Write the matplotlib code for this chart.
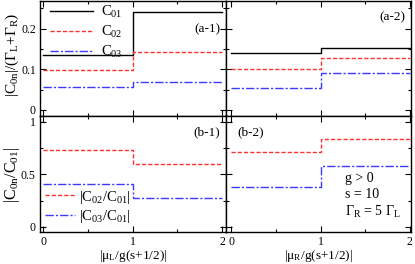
import matplotlib
matplotlib.use("Agg")
import matplotlib.pyplot as plt
from matplotlib.ticker import MultipleLocator, FormatStrFormatter

plt.rcParams['font.family'] = ['Liberation Serif', 'DejaVu Serif']
plt.rcParams['mathtext.fontset'] = 'custom'
plt.rcParams['mathtext.rm'] = 'Liberation Serif'
plt.rcParams['mathtext.it'] = 'Liberation Serif'
plt.rcParams['mathtext.default'] = 'regular'

# step positions: value below 1 and above 1
x = [0, 1, 2]

# (a-1) |C0n|/(GL+GR) vs muL
a1_c01 = [0.135, 0.241]
a1_c02 = [0.099, 0.143]
a1_c03 = [0.056, 0.068]
# (a-2) vs muR
a2_c01 = [0.141, 0.153]
a2_c02 = [0.0995, 0.128]
a2_c03 = [0.054, 0.0915]
# (b-1) ratios vs muL
b1_r2 = [0.733, 0.596]
b1_r3 = [0.408, 0.277]
# (b-2) ratios vs muR
b2_r2 = [0.716, 0.835]
b2_r3 = [0.382, 0.583]

W, H = 415, 264
fig = plt.figure(figsize=(W / 100, H / 100), dpi=100)

def px_axes(x0, y0, x1, y1):
    return fig.add_axes([x0 / W, 1 - y1 / H, (x1 - x0) / W, (y1 - y0) / H])

ax_a1 = px_axes(40, 1, 226, 116)
ax_a2 = px_axes(226, 1, 411, 116)
ax_b1 = px_axes(40, 116, 226, 232)
ax_b2 = px_axes(226, 116, 411, 232)

def st(v):
    return [v[0], v[1], v[1]]

red = '#ff3030'
blue = '#3a3aff'
lw = 1.0
dash = (0, (3, 1.5))
dashdot = (0, (6, 1.5, 1.5, 1.5))

for ax, c1, c2, c3 in [(ax_a1, a1_c01, a1_c02, a1_c03), (ax_a2, a2_c01, a2_c02, a2_c03)]:
    ax.step(x, st(c1), where='post', color='black', lw=lw, label='C$_{01}$')
    ax.step(x, st(c2), where='post', color=red, lw=lw, ls=dash, label='C$_{02}$')
    ax.step(x, st(c3), where='post', color=blue, lw=lw, ls=dashdot, label='C$_{03}$')
    ax.set_ylim(-0.015, 0.268)
    ax.yaxis.set_major_locator(MultipleLocator(0.1))
    ax.yaxis.set_minor_locator(MultipleLocator(0.05))

for ax, r2, r3 in [(ax_b1, b1_r2, b1_r3), (ax_b2, b2_r2, b2_r3)]:
    ax.step(x, st(r2), where='post', color=red, lw=lw, ls=dash, label='|C$_{02}$/C$_{01}$|')
    ax.step(x, st(r3), where='post', color=blue, lw=lw, ls=dashdot, label='|C$_{03}$/C$_{01}$|')
    ax.set_ylim(-0.05, 1.057)
    ax.yaxis.set_major_locator(MultipleLocator(0.5))
    ax.yaxis.set_minor_locator(MultipleLocator(0.25))

for ax in [ax_a1, ax_b1]:
    ax.set_xlim(-0.035, 2.045)
for ax in [ax_a2, ax_b2]:
    ax.set_xlim(-0.06, 2.015)

for ax in [ax_a1, ax_a2, ax_b1, ax_b2]:
    ax.xaxis.set_major_locator(MultipleLocator(1))
    ax.xaxis.set_minor_locator(MultipleLocator(0.5))
    ax.xaxis.set_major_formatter(FormatStrFormatter('%g'))
    ax.yaxis.set_major_formatter(FormatStrFormatter('%g'))
    ax.tick_params(which='both', direction='in', top=True, right=True, labelsize=8.5, pad=3)
    ax.tick_params(which='major', length=4, width=0.8)
    ax.tick_params(which='minor', length=2.5, width=0.8)
    for s in ax.spines.values():
        s.set_linewidth(1.0)

ax_a1.tick_params(labelbottom=False)
ax_a2.tick_params(labelbottom=False, labelleft=False)
ax_b2.tick_params(labelleft=False)

# y labels placed by pixel position
fig.text(12 / W, 1 - 55 / H, '|C$_{0n}$|/(Γ$_L$+Γ$_R$)', fontsize=11,
         rotation=90, ha='center', va='center')
fig.text(12 / W, 1 - 175 / H, '|C$_{0n}$/C$_{01}$|', fontsize=11.5,
         rotation=90, ha='center', va='center')
ax_b1.set_xlabel('|μ$_L$/g(s+1/2)|', fontsize=9.5, labelpad=0)
ax_b2.set_xlabel('|μ$_R$/g(s+1/2)|', fontsize=9.5, labelpad=0)

ax_a1.legend(loc='upper left', frameon=False, fontsize=10.5, handlelength=2.9,
             handletextpad=0.6, labelspacing=0.25, borderaxespad=0.05,
             bbox_to_anchor=(0.02, 1.03))
ax_b1.legend(loc='lower left', frameon=False, fontsize=10.5, handlelength=2.0,
             handletextpad=0.3, labelspacing=0.15, borderaxespad=0.1,
             bbox_to_anchor=(-0.01, 0.0))

ax_a1.text(0.97, 0.75, '(a-1)', transform=ax_a1.transAxes, ha='right', va='center', fontsize=9.5)
ax_a2.text(0.97, 0.86, '(a-2)', transform=ax_a2.transAxes, ha='right', va='center', fontsize=9.5)
ax_b1.text(0.97, 0.86, '(b-1)', transform=ax_b1.transAxes, ha='right', va='center', fontsize=9.5)
ax_b2.text(0.06, 0.86, '(b-2)', transform=ax_b2.transAxes, ha='left', va='center', fontsize=9.5)
ax_b2.text(0.645, 0.31, 'g > 0\ns = 10\nΓ$_R$ = 5 Γ$_L$', transform=ax_b2.transAxes,
           ha='left', va='center', fontsize=10, linespacing=1.3)

fig.savefig('out.png', dpi=100)
